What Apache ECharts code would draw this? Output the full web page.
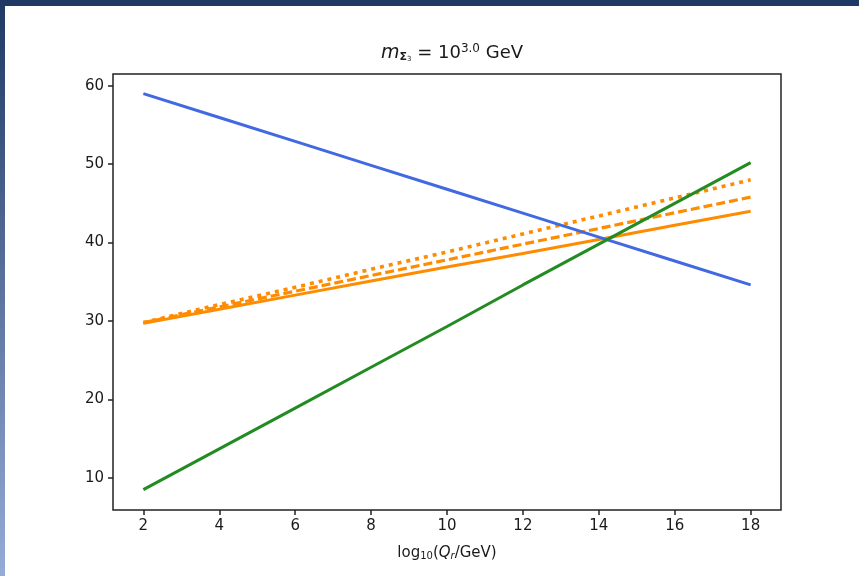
<!DOCTYPE html>
<html>
<head>
<meta charset="utf-8">
<script src="https://cdn.jsdelivr.net/npm/echarts@6/dist/echarts.min.js"></script>
<style>
  html, body { margin: 0; padding: 0; background: #ffffff; }
  #chart { width: 859px; height: 576px; }
</style>
</head>
<body>
<div id="chart"></div>
<script>
// Renormalisation scale, log10(Q_r / GeV)
const scales = [2, 4, 6, 8, 10, 12, 14, 16, 18];

// Inverse couplings at each scale
const alphaBlue   = [59.0, 55.95, 52.9, 49.85, 46.8, 43.75, 40.7, 37.65, 34.6];
const alphaGreen  = [8.5, 13.7, 18.9, 24.1, 29.3, 34.6, 39.8, 45.0, 50.2];
const alphaOrangeSolid  = [29.7, 31.5, 33.3, 35.1, 36.9, 38.6, 40.4, 42.2, 44.0];
const alphaOrangeDashed = [29.8, 31.8, 33.8, 35.8, 37.8, 39.8, 41.8, 43.8, 45.8];
const alphaOrangeDotted = [29.8, 32.1, 34.3, 36.6, 38.8, 41.1, 43.4, 45.7, 48.0];

// Tick positions
const xTicks = [2, 4, 6, 8, 10, 12, 14, 16, 18];
const yTicks = [10, 20, 30, 40, 50, 60];

const pairs = (ys) => scales.map((x, i) => [x, ys[i]]);

const chart = echarts.init(document.getElementById('chart'), null, { renderer: 'canvas' });

const font = 'DejaVu Sans';
const ink = '#1a1a1a';

const lineSeries = (data, color, type, width, z) => ({
  type: 'line',
  data: pairs(data),
  showSymbol: false,
  symbol: 'none',
  z: z,
  lineStyle: { color: color, width: width, type: type, cap: 'butt' },
  animation: false
});

chart.setOption({
  backgroundColor: '#ffffff',
  animation: false,
  graphic: [
    { type: 'rect', shape: { x: 0, y: 0, width: 859, height: 6 }, style: { fill: '#203864' }, z: 100 },
    {
      type: 'rect', shape: { x: 0, y: 0, width: 5, height: 576 }, z: 100,
      style: {
        fill: new echarts.graphic.LinearGradient(0, 0, 0, 1, [
          { offset: 0, color: '#203864' },
          { offset: 1, color: '#95acd8' }
        ])
      }
    }
  ],
  title: {
    text: '{m|m}{sub|Σ}{sub3|3}{t| = 10}{sup|3.0}{t| GeV}',
    left: 447,
    textAlign: 'center',
    top: 38,
    textStyle: {
      fontWeight: 'normal',
      rich: {
        m: { fontFamily: font, fontStyle: 'italic', fontWeight: 'normal', fontSize: 19, color: ink },
        sub: { fontFamily: font, fontWeight: 'bold', fontSize: 11, color: ink, padding: [8, 0, 0, 0] },
        sub3: { fontFamily: font, fontWeight: 'normal', fontSize: 7, color: ink, padding: [12, 0, 0, 0] },
        t: { fontFamily: font, fontWeight: 'normal', fontSize: 18, color: ink },
        sup: { fontFamily: font, fontWeight: 'normal', fontSize: 12, color: ink, padding: [0, 0, 8, 0] }
      }
    }
  },
  grid: {
    left: 113, right: 78, top: 74, bottom: 66,
    show: true, borderColor: '#222222', borderWidth: 1.5, backgroundColor: '#ffffff'
  },
  xAxis: {
    type: 'value',
    min: 1.2, max: 18.8,
    name: '{a|log}{s|10}{a|(}{i|Q}{r|r}{a|/GeV)}',
    nameLocation: 'middle',
    nameGap: 35,
    nameTextStyle: {
      rich: {
        a: { fontFamily: font, fontSize: 15, color: ink },
        s: { fontFamily: font, fontSize: 10, color: ink, padding: [6, 0, 0, 0] },
        i: { fontFamily: font, fontStyle: 'italic', fontSize: 15, color: ink },
        r: { fontFamily: font, fontStyle: 'italic', fontSize: 10, color: ink, padding: [6, 0, 0, 0] }
      }
    },
    axisLine: { show: false },
    splitLine: { show: false },
    axisTick: { show: true, inside: false, length: 5, customValues: xTicks, lineStyle: { color: '#222222', width: 1.5 } },
    axisLabel: { customValues: xTicks, fontFamily: font, fontSize: 15, color: ink, margin: 9 }
  },
  yAxis: {
    type: 'value',
    min: 5.9, max: 61.5,
    axisLine: { show: false },
    splitLine: { show: false },
    axisTick: { show: true, inside: false, length: 5, customValues: yTicks, lineStyle: { color: '#222222', width: 1.5 } },
    axisLabel: { customValues: yTicks, fontFamily: font, fontSize: 15, color: ink, margin: 9 }
  },
  series: [
    lineSeries(alphaOrangeSolid, '#ff8c00', 'solid', 3, 2),
    lineSeries(alphaOrangeDashed, '#ff8c00', [9, 4], 3.2, 2),
    lineSeries(alphaOrangeDotted, '#ff8c00', [4, 5], 3.6, 2),
    lineSeries(alphaBlue, '#4169e1', 'solid', 3, 3),
    lineSeries(alphaGreen, '#228b22', 'solid', 3, 4)
  ]
});
</script>
</body>
</html>
